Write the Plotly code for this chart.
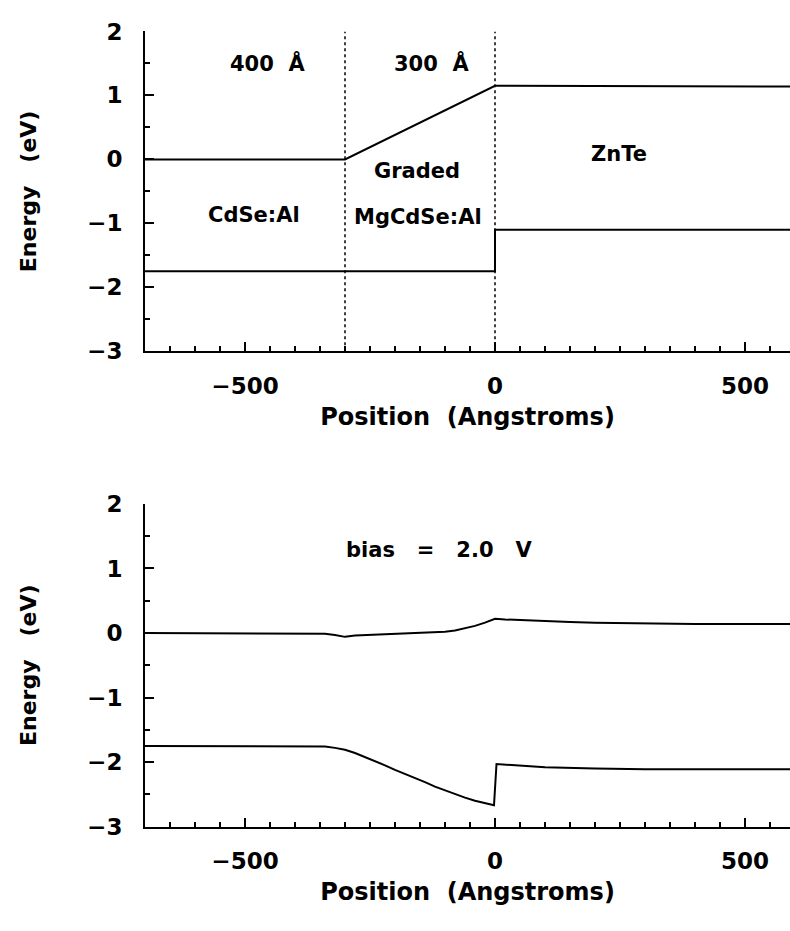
import plotly.graph_objects as go

# ---- data (positions in Angstroms, energies in eV) ----
x_cb_eq = [-700, -300, 0, 590]
y_cb_eq = [0.0, 0.0, 1.15, 1.14]
x_vb_eq = [-700, 0, 0, 590]
y_vb_eq = [-1.75, -1.75, -1.10, -1.10]

x_cb_bias = [-700, -400, -340, -320, -300, -280, -250, -200, -150, -100, -80, -60, -40, -20, 0,
             20, 50, 100, 150, 200, 300, 400, 590]
y_cb_bias = [0.0, 0.0, -0.01, -0.03, -0.06, -0.04, -0.03, -0.02, 0.0, 0.02, 0.04, 0.07, 0.11, 0.16, 0.22,
             0.21, 0.20, 0.18, 0.17, 0.16, 0.15, 0.14, 0.14]
x_vb_bias = [-700, -400, -340, -320, -300, -280, -260, -240, -220, -200, -180, -160, -140, -120, -100,
             -80, -60, -40, -20, -2, 3, 50, 100, 200, 300, 590]
y_vb_bias = [-1.75, -1.75, -1.76, -1.78, -1.81, -1.86, -1.92, -1.98, -2.05, -2.12, -2.18, -2.25, -2.31,
             -2.38, -2.44, -2.50, -2.55, -2.60, -2.64, -2.67, -2.03, -2.05, -2.08, -2.10, -2.11, -2.11]

boundaries = [-300, 0]

labels_top = ["400\u00a0\u00a0Å", "300\u00a0\u00a0Å", "CdSe:Al", "Graded", "MgCdSe:Al", "ZnTe"]
labels_top_x = [-456, -128, -482, -156, -155, 248]
labels_top_y = [1.5, 1.5, -0.87, -0.18, -0.9, 0.09]
bias_label = "bias\u00a0\u00a0\u00a0=\u00a0\u00a0\u00a02.0\u00a0\u00a0\u00a0V"
bias_x, bias_y = -112, 1.29

x_range = [-700, 590]
y_range = [-3, 2]
x_title = "Position\u00a0\u00a0(Angstroms)"
y_title = "Energy\u00a0\u00a0\u00a0(eV)"

W, H = 790, 931
FONT = "DejaVu Sans"

fig = go.Figure()
line = dict(color="black", width=2)
fig.add_trace(go.Scatter(x=x_cb_eq, y=y_cb_eq, mode="lines", line=line, xaxis="x", yaxis="y"))
fig.add_trace(go.Scatter(x=x_vb_eq, y=y_vb_eq, mode="lines", line=line, xaxis="x", yaxis="y"))
fig.add_trace(go.Scatter(x=x_cb_bias, y=y_cb_bias, mode="lines", line=line, xaxis="x2", yaxis="y2"))
fig.add_trace(go.Scatter(x=x_vb_bias, y=y_vb_bias, mode="lines", line=line, xaxis="x2", yaxis="y2"))

for b in boundaries:
    fig.add_shape(type="line", xref="x", yref="y", x0=b, x1=b, y0=y_range[0], y1=y_range[1],
                  line=dict(color="black", width=1.5, dash="dot"), layer="below")

annfont = dict(family=FONT, size=21, color="black", weight="bold")
for t, x, y in zip(labels_top, labels_top_x, labels_top_y):
    fig.add_annotation(x=x, y=y, xref="x", yref="y", text=t, showarrow=False, font=annfont)
fig.add_annotation(x=bias_x, y=bias_y, xref="x2", yref="y2", text=bias_label, showarrow=False,
                   font=annfont)

def dom(top_px, bot_px):
    return [(H - bot_px) / H, (H - top_px) / H]

tickfont = dict(family=FONT, size=23, color="black", weight="bold")
xtitlefont = dict(family=FONT, size=24, color="black", weight="bold")
ytitlefont = dict(family=FONT, size=22, color="black", weight="bold")

xcommon = dict(range=x_range, showgrid=False, zeroline=False, showline=True, linecolor="black",
               linewidth=2, ticks="inside", ticklen=9, tickwidth=1.5, tickcolor="black",
               tickvals=[-500, 0, 500], tickfont=tickfont, ticklabelstandoff=13,
               minor=dict(dtick=50, tick0=0, ticks="inside", ticklen=5, tickwidth=1.5, tickcolor="black"),
               title=dict(text=x_title, font=xtitlefont, standoff=10))
ycommon = dict(range=y_range, showgrid=False, zeroline=False, showline=True, linecolor="black",
               linewidth=2, ticks="inside", ticklen=9, tickwidth=1.5, tickcolor="black",
               dtick=1, tick0=0, tickfont=tickfont, ticklabelstandoff=16,
               minor=dict(dtick=0.5, tick0=0, ticks="inside", ticklen=5, tickwidth=1.5, tickcolor="black"),
               title=dict(text=y_title, font=ytitlefont, standoff=44))

fig.update_layout(
    width=W, height=H,
    margin=dict(l=145, r=0, t=0, b=0),
    paper_bgcolor="white", plot_bgcolor="white",
    showlegend=False,
    xaxis=dict(domain=[0, 1], anchor="y", **xcommon),
    yaxis=dict(domain=dom(19, 348), anchor="x", **ycommon),
    xaxis2=dict(domain=[0, 1], anchor="y2", **xcommon),
    yaxis2=dict(domain=dom(505, 837), anchor="x2", **ycommon),
)

fig.write_html("out.html")
